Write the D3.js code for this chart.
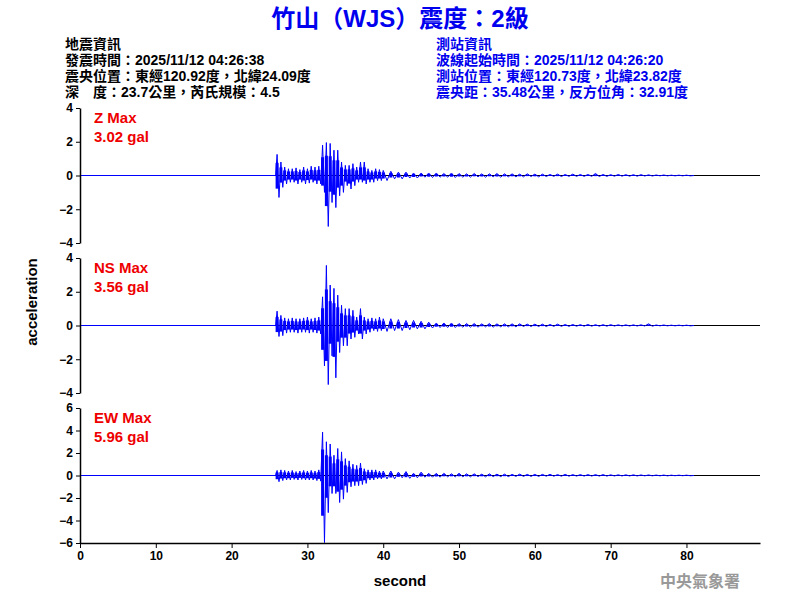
<!DOCTYPE html>
<html lang="zh-Hant">
<head>
<meta charset="utf-8">
<title>竹山 (WJS) 震度</title>
<script src="https://cdn.jsdelivr.net/npm/d3@7/dist/d3.min.js"></script>
<style>
  body { margin: 0; background: #fff; }
  text { font-family: "Liberation Sans", "Noto Sans CJK TC", sans-serif; }
</style>
</head>
<body>
<div id="chart"></div>
<script>
// time bins (s), envelope: max and min per bin
const times = [26, 26.5, 27, 27.5, 28, 28.5, 29, 29.5, 30, 30.5, 31, 31.5, 32, 32.5, 33, 33.5, 34, 34.5,
  35, 35.5, 36, 36.5, 37, 37.5, 38, 38.5, 39, 39.5, 40,
  41, 42, 43, 44, 45, 46, 47, 48, 49, 50, 51, 52, 53, 54, 55, 56, 57, 58, 59, 60,
  61, 62, 63, 64, 65, 66, 67, 68, 69, 70, 71, 72, 73, 74, 75, 76, 77, 78, 79, 80];

const zUp = [1.25, 0.8, 0.5, 0.4, 0.4, 0.45, 0.35, 0.5, 0.4, 0.55, 0.5, 0.55, 1.8, 1.95, 1.9, 1.5, 1.5, 0.8,
  0.6, 0.6, 0.7, 0.5, 0.8, 0.8, 0.4, 0.3, 0.4, 0.35, 0.3,
  0.25, 0.2, 0.2, 0.15, 0.15, 0.15, 0.15, 0.12, 0.15, 0.12, 0.1, 0.12, 0.1, 0.1, 0.12, 0.1, 0.1, 0.08, 0.1, 0.08,
  0.08, 0.06, 0.08, 0.06, 0.08, 0.06, 0.06, 0.12, 0.06, 0.05, 0.06, 0.05, 0.05, 0.05, 0.04, 0.03, 0.03, 0.02, 0.02, 0.02];
const zDn = [-1.3, -0.7, -0.5, -0.4, -0.4, -0.5, -0.4, -0.5, -0.45, -0.4, -0.5, -0.5, -1.0, -3.02, -1.6, -1.9, -1.2, -1.0,
  -0.6, -0.8, -0.6, -0.4, -0.4, -0.5, -0.4, -0.4, -0.3, -0.3, -0.3,
  -0.2, -0.2, -0.15, -0.15, -0.1, -0.12, -0.1, -0.1, -0.12, -0.1, -0.1, -0.08, -0.1, -0.08, -0.1, -0.08, -0.08, -0.08, -0.06, -0.08,
  -0.06, -0.05, -0.06, -0.05, -0.05, -0.05, -0.05, -0.06, -0.05, -0.04, -0.04, -0.04, -0.04, -0.03, -0.03, -0.02, -0.02, -0.02, -0.02, -0.02];

const nsUp = [0.85, 0.6, 0.45, 0.4, 0.45, 0.4, 0.4, 0.45, 0.5, 0.4, 0.45, 0.5, 1.7, 3.56, 2.4, 2.2, 1.8, 1.2,
  1.0, 1.0, 0.9, 0.5, 1.0, 0.5, 0.4, 0.45, 0.4, 0.5, 0.4,
  0.4, 0.35, 0.3, 0.3, 0.25, 0.2, 0.15, 0.15, 0.15, 0.12, 0.12, 0.12, 0.1, 0.12, 0.1, 0.1, 0.1, 0.1, 0.08, 0.08,
  0.08, 0.06, 0.08, 0.06, 0.06, 0.05, 0.06, 0.05, 0.05, 0.05, 0.04, 0.04, 0.04, 0.04, 0.1, 0.03, 0.03, 0.02, 0.02, 0.02];
const nsDn = [-0.65, -0.6, -0.45, -0.4, -0.4, -0.45, -0.4, -0.4, -0.45, -0.4, -0.45, -0.5, -2.4, -3.5, -1.8, -3.1, -1.6, -1.2,
  -1.2, -0.8, -0.7, -0.5, -0.8, -0.5, -0.4, -0.3, -0.35, -0.3, -0.35,
  -0.3, -0.3, -0.25, -0.2, -0.2, -0.15, -0.12, -0.12, -0.12, -0.1, -0.1, -0.1, -0.08, -0.1, -0.08, -0.08, -0.08, -0.06, -0.06, -0.06,
  -0.06, -0.05, -0.05, -0.05, -0.04, -0.04, -0.04, -0.04, -0.04, -0.03, -0.03, -0.03, -0.03, -0.03, -0.04, -0.02, -0.02, -0.02, -0.02, -0.02];

const ewUp = [0.45, 0.5, 0.45, 0.4, 0.45, 0.35, 0.4, 0.45, 0.4, 0.45, 0.4, 0.5, 3.85, 3.0, 2.8, 1.8, 2.4, 2.1,
  1.5, 1.3, 1.0, 0.9, 1.1, 0.6, 0.5, 0.5, 0.5, 0.4, 0.4,
  0.4, 0.3, 0.35, 0.2, 0.3, 0.2, 0.2, 0.2, 0.15, 0.2, 0.15, 0.15, 0.12, 0.15, 0.12, 0.12, 0.1, 0.12, 0.1, 0.1,
  0.1, 0.1, 0.08, 0.1, 0.08, 0.08, 0.08, 0.08, 0.08, 0.06, 0.06, 0.06, 0.06, 0.05, 0.05, 0.04, 0.04, 0.03, 0.03, 0.03];
const ewDn = [-0.55, -0.45, -0.4, -0.4, -0.35, -0.4, -0.35, -0.4, -0.4, -0.4, -0.45, -0.5, -5.96, -3.3, -1.6, -1.6, -2.4, -2.1,
  -1.5, -1.0, -0.9, -0.9, -0.8, -0.7, -0.4, -0.4, -0.3, -0.3, -0.3,
  -0.3, -0.2, -0.25, -0.2, -0.15, -0.15, -0.15, -0.12, -0.12, -0.12, -0.12, -0.1, -0.12, -0.1, -0.1, -0.1, -0.08, -0.08, -0.08, -0.08,
  -0.06, -0.06, -0.06, -0.06, -0.05, -0.05, -0.05, -0.05, -0.05, -0.04, -0.04, -0.04, -0.04, -0.03, -0.03, -0.03, -0.03, -0.02, -0.02, -0.02];

const xTicks = [0, 10, 20, 30, 40, 50, 60, 70, 80];
const panels = [
  { name: "Z Max", pga: "3.02 gal", up: zUp, dn: zDn, ticks: [-4, -2, 0, 2, 4], lim: 4 },
  { name: "NS Max", pga: "3.56 gal", up: nsUp, dn: nsDn, ticks: [-4, -2, 0, 2, 4], lim: 4 },
  { name: "EW Max", pga: "5.96 gal", up: ewUp, dn: ewDn, ticks: [-6, -4, -2, 0, 2, 4, 6], lim: 6 }
];
const infoLeft = ["地震資訊", "發震時間：2025/11/12 04:26:38", "震央位置：東經120.92度，北緯24.09度", "深　度：23.7公里，芮氏規模：4.5"];
const infoRight = ["測站資訊", "波線起始時間：2025/11/12 04:26:20", "測站位置：東經120.73度，北緯23.82度", "震央距：35.48公里，反方位角：32.91度"];

const W = 800, H = 600;
const left = 80, right = 760;
const panelTop = [108, 258, 408], panelH = 135;

const svg = d3.select("#chart").append("svg").attr("width", W).attr("height", H);

svg.append("text").attr("x", 400).attr("y", 27).attr("text-anchor", "middle")
  .attr("fill", "#0000ee").attr("font-size", 24).attr("font-weight", "bold")
  .text("竹山（WJS）震度：2級");

infoLeft.forEach((s, i) => svg.append("text").attr("x", 65).attr("y", 49 + i * 16)
  .attr("font-size", 14).attr("font-weight", "bold").attr("fill", "#000").text(s));
infoRight.forEach((s, i) => svg.append("text").attr("x", 436).attr("y", 49 + i * 16)
  .attr("font-size", 14).attr("font-weight", "bold").attr("fill", "#0000ee").text(s));

const x = d3.scaleLinear().domain([0, 89.7]).range([left, right]);

panels.forEach((p, k) => {
  const top = panelTop[k];
  const y = d3.scaleLinear().domain([-p.lim, p.lim]).range([top + panelH, top]);
  const g = svg.append("g");

  // trace: flat before onset, then zigzag through each bin's max and min
  const pts = [[0, 0], [times[0] - 0.2, 0]];
  times.forEach((t, i) => {
    const step = i < times.length - 1 ? times[i + 1] - t : 1;
    pts.push([t, p.up[i]], [t + step / 2, p.dn[i]]);
  });
  pts.push([81, 0]);

  g.append("line").attr("x1", left).attr("x2", right).attr("y1", y(0)).attr("y2", y(0))
    .attr("stroke", "#000").attr("stroke-width", 1);

  g.append("path").datum(pts)
    .attr("d", d3.line().x(d => x(d[0])).y(d => y(d[1])))
    .attr("fill", "none").attr("stroke", "#0000ff").attr("stroke-width", 1);

  // filled envelope per bin so the trace reads as dense as the recording
  g.selectAll("line.env").data(times).join("line").attr("class", "env")
    .attr("x1", d => x(d)).attr("x2", d => x(d))
    .attr("y1", (d, i) => y(p.up[i] * 0.6)).attr("y2", (d, i) => y(p.dn[i] * 0.6))
    .attr("stroke", "#0000ff").attr("stroke-width", 3);

  const ya = g.append("g").attr("transform", `translate(${left},0)`)
    .call(d3.axisLeft(y).tickValues(p.ticks).tickSize(4).tickSizeOuter(0));
  ya.selectAll("text").attr("font-size", 12).attr("font-weight", "bold").attr("fill", "#000")
    .attr("font-family", "Liberation Sans");
  ya.select(".domain").attr("stroke-width", 1.5);

  g.append("text").attr("x", 94).attr("y", top + 15).attr("fill", "#ee0000")
    .attr("font-size", 15).attr("font-weight", "bold").text(p.name);
  g.append("text").attr("x", 94).attr("y", top + 34).attr("fill", "#ee0000")
    .attr("font-size", 15).attr("font-weight", "bold").text(p.pga);
});

const xa = svg.append("g").attr("transform", `translate(0,${panelTop[2] + panelH})`)
  .call(d3.axisBottom(x).tickValues(xTicks).tickSize(5).tickSizeOuter(0));
xa.selectAll("text").attr("font-size", 12).attr("font-weight", "bold").attr("fill", "#000")
  .attr("font-family", "Liberation Sans");
xa.select(".domain").attr("stroke-width", 1.5);

svg.append("text").attr("x", 400).attr("y", 586).attr("text-anchor", "middle")
  .attr("font-size", 15).attr("font-weight", "bold").text("second");
svg.append("text").attr("transform", "translate(37,302) rotate(-90)").attr("text-anchor", "middle")
  .attr("font-size", 15).attr("font-weight", "bold").text("acceleration");
svg.append("text").attr("x", 700).attr("y", 587).attr("text-anchor", "middle")
  .attr("font-size", 16).attr("font-weight", "bold").attr("fill", "#999")
  .attr("font-family", "Noto Serif CJK TC, Noto Sans CJK TC").text("中央氣象署");
</script>
</body>
</html>
